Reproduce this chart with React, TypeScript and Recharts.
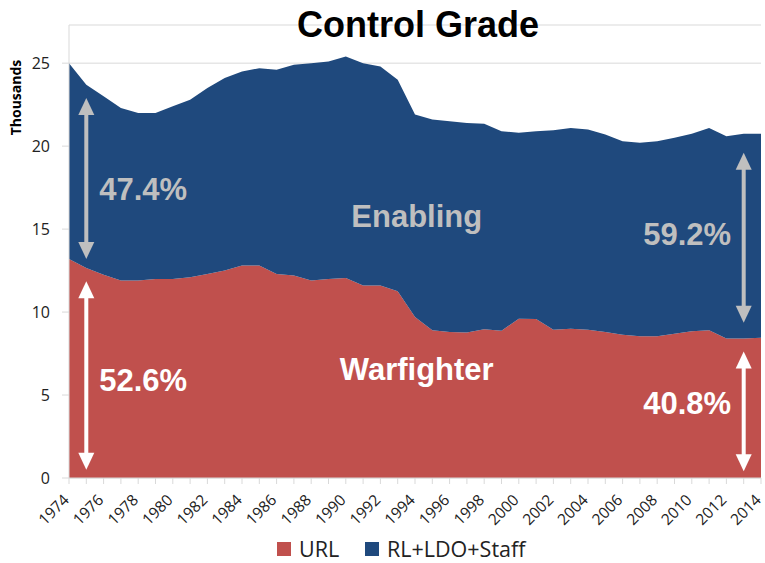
import React from "react";
import {
	AreaChart,
	Area,
	XAxis,
	YAxis,
	CartesianGrid,
	ReferenceLine,
	ReferenceDot,
} from "recharts";

const years = [
	1974, 1975, 1976, 1977, 1978, 1979, 1980, 1981, 1982, 1983, 1984, 1985,
	1986, 1987, 1988, 1989, 1990, 1991, 1992, 1993, 1994, 1995, 1996, 1997,
	1998, 1999, 2000, 2001, 2002, 2003, 2004, 2005, 2006, 2007, 2008, 2009,
	2010, 2011, 2012, 2013, 2014,
];

// thousands
const urlValues = [
	13.2, 12.65, 12.25, 11.9, 11.9, 12.0, 12.0, 12.1, 12.3, 12.5, 12.8, 12.8,
	12.3, 12.2, 11.9, 12.0, 12.05, 11.6, 11.6, 11.25, 9.7, 8.9, 8.8, 8.77, 8.97,
	8.87, 9.6, 9.58, 8.93, 9.0, 8.93, 8.8, 8.63, 8.55, 8.55, 8.7, 8.85, 8.9, 8.4,
	8.4, 8.45,
];

const supportValues = [
	11.8, 11.05, 10.75, 10.4, 10.1, 10.0, 10.4, 10.7, 11.2, 11.6, 11.7, 11.9,
	12.3, 12.7, 13.1, 13.1, 13.35, 13.4, 13.2, 12.75, 12.2, 12.7, 12.7, 12.63,
	12.38, 12.03, 11.2, 11.32, 12.02, 12.1, 12.07, 11.9, 11.67, 11.65, 11.75,
	11.8, 11.9, 12.2, 12.2, 12.35, 12.3,
];

const yTicks = [0, 5, 10, 15, 20, 25];

const URL_COLOR = "#C0504D";
const SUPPORT_COLOR = "#1F497D";
const GRAY_TEXT = "#BFBFBF";
const AXIS_GRAY = "#D9D9D9";
const LABEL_FONT = "'Open Sans', 'DejaVu Sans', sans-serif";
const BOLD_FONT = "'Liberation Sans', Arial, sans-serif";

const chartData = years.map((year, i) => ({
	year,
	url: urlValues[i],
	support: supportValues[i],
}));

// double headed arrows, in data units
const arrows = [
	{ x: 1975, from: 13.2, to: 22.9, color: GRAY_TEXT },
	{ x: 1975, from: 0.5, to: 11.85, color: "#FFFFFF" },
	{ x: 2013, from: 9.35, to: 19.6, color: GRAY_TEXT },
	{ x: 2013, from: 0.4, to: 7.63, color: "#FFFFFF" },
];

const callouts = [
	{ x: 1975.75, y: 16.77, text: "47.4%", color: GRAY_TEXT, anchor: "start" },
	{ x: 1975.75, y: 5.26, text: "52.6%", color: "#FFFFFF", anchor: "start" },
	{ x: 1994.1, y: 15.14, text: "Enabling", color: GRAY_TEXT, anchor: "middle" },
	{ x: 1994.1, y: 5.92, text: "Warfighter", color: "#FFFFFF", anchor: "middle" },
	{ x: 2012.27, y: 14.05, text: "59.2%", color: GRAY_TEXT, anchor: "end" },
	{ x: 2012.27, y: 3.87, text: "40.8%", color: "#FFFFFF", anchor: "end" },
];

const legendItems = [
	{ name: "URL", color: URL_COLOR, x: 277 },
	{ name: "RL+LDO+Staff", color: SUPPORT_COLOR, x: 365 },
];

const makeArrow = (color: string) => (props: any) => {
	const { x1, y1, x2, y2 } = props;
	const top = Math.min(y1, y2);
	const bottom = Math.max(y1, y2);
	const hw = 8;
	const hh = 17;
	return (
		<g>
			<line
				x1={x1}
				x2={x2}
				y1={top + hh - 1}
				y2={bottom - hh + 1}
				stroke={color}
				strokeWidth={4}
			/>
			<polygon
				points={`${x1},${top} ${x1 - hw},${top + hh} ${x1 + hw},${top + hh}`}
				fill={color}
			/>
			<polygon
				points={`${x1},${bottom} ${x1 - hw},${bottom - hh} ${x1 + hw},${bottom - hh}`}
				fill={color}
			/>
		</g>
	);
};

const makeCallout =
	(text: string, color: string, anchor: string) => (props: any) => (
		<text
			x={props.cx}
			y={props.cy}
			textAnchor={anchor as any}
			fill={color}
			fontFamily={BOLD_FONT}
			fontWeight="bold"
			fontSize={31}
		>
			{text}
		</text>
	);

const YearTick = (props: any) => {
	const { x, y, payload } = props;
	if (payload.value % 2 !== 0) return null;
	return (
		<g transform={`translate(${x + 1},${y + 15})`}>
			<text
				x={0}
				y={0}
				textAnchor="end"
				transform="rotate(-45)"
				fill="#222"
				fontFamily={LABEL_FONT}
				fontSize={15.5}
			>
				{payload.value}
			</text>
		</g>
	);
};

export default function App() {
	return (
		<div
			style={{
				position: "absolute",
				left: 0,
				top: 0,
				width: 765,
				height: 563,
				background: "#fff",
				overflow: "hidden",
			}}
		>
			<AreaChart
				width={765}
				height={563}
				data={chartData}
				margin={{ top: 25, right: 4, bottom: 25, left: 0 }}
			>
				<CartesianGrid vertical={false} stroke={AXIS_GRAY} />
				<XAxis
					dataKey="year"
					type="number"
					domain={[1974, 2014]}
					ticks={years}
					interval={0}
					height={60}
					tickSize={6}
					stroke={AXIS_GRAY}
					tick={<YearTick />}
				/>
				<YAxis
					domain={[0, 27.3]}
					ticks={yTicks}
					width={69}
					tickSize={7}
					tickMargin={12}
					stroke={AXIS_GRAY}
					tick={{ fill: "#222", fontSize: 16, fontFamily: LABEL_FONT }}
				/>
				<Area
					type="linear"
					dataKey="url"
					name="URL"
					stackId="a"
					stroke="none"
					fill={URL_COLOR}
					fillOpacity={1}
					isAnimationActive={false}
				/>
				<Area
					type="linear"
					dataKey="support"
					name="RL+LDO+Staff"
					stackId="a"
					stroke="none"
					fill={SUPPORT_COLOR}
					fillOpacity={1}
					isAnimationActive={false}
				/>
				{arrows.map((a, i) => (
					<ReferenceLine
						key={`arrow-${i}`}
						segment={[
							{ x: a.x, y: a.from },
							{ x: a.x, y: a.to },
						]}
						shape={makeArrow(a.color)}
					/>
				))}
				{callouts.map((c) => (
					<ReferenceDot
						key={c.text}
						x={c.x}
						y={c.y}
						r={0}
						shape={makeCallout(c.text, c.color, c.anchor)}
					/>
				))}
			</AreaChart>

			{/* title, axis title and legend */}
			<svg
				width={765}
				height={563}
				style={{ position: "absolute", left: 0, top: 0, pointerEvents: "none" }}
			>
				<text
					x={418}
					y={37}
					textAnchor="middle"
					fontFamily={BOLD_FONT}
					fontWeight="bold"
					fontSize={36}
					fill="#000"
				>
					Control Grade
				</text>
				<text
					transform="translate(20.5,97.5) rotate(-90)"
					textAnchor="middle"
					fontFamily={LABEL_FONT}
					fontWeight="bold"
					fontSize={14}
					fill="#000"
				>
					Thousands
				</text>
				{legendItems.map((item) => (
					<g key={item.name}>
						<rect x={item.x} y={542} width={14} height={14} fill={item.color} />
						<text
							x={item.x + 22}
							y={557}
							fontFamily={LABEL_FONT}
							fontSize={21.5}
							fill="#222"
						>
							{item.name}
						</text>
					</g>
				))}
			</svg>
		</div>
	);
}
